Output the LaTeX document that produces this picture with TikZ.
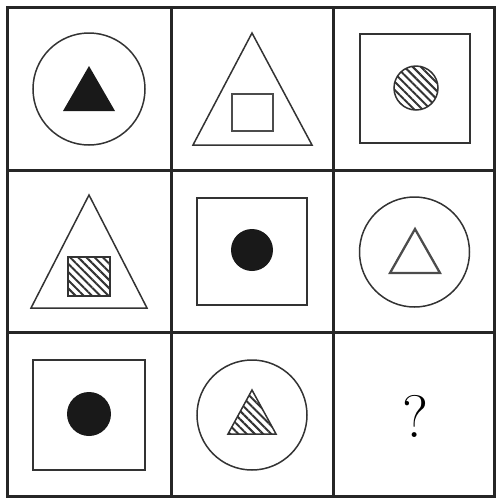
\documentclass[tikz,border=0pt]{standalone}
\usetikzlibrary{patterns.meta}
\begin{document}
\begin{tikzpicture}[x=1pt,y=-1pt,
  gridline/.style={line width=3pt, draw=black!85},
  figline/.style={line width=1.5pt, draw=black!80},
  thickfig/.style={line width=2.3pt, draw=black!70},
  solidfig/.style={fill=black!90, draw=none},
  hatchfig/.style={line width=1.5pt, draw=black!80, pattern={Lines[angle=-45,distance=5.8pt,line width=2pt]}, pattern color=black!80}]
\useasboundingbox (0,0) rectangle (499,499);
% grid
\draw[gridline] (7,7) rectangle (494,496);
\draw[gridline] (171,7) -- (171,496);
\draw[gridline] (333,7) -- (333,496);
\draw[gridline] (7,170) -- (494,170);
\draw[gridline] (7,332) -- (494,332);
% cell 1
\draw[figline] (89,89) circle[radius=56];
\fill[solidfig] (89,66) -- (115,111) -- (63,111) -- cycle;
% cell 2
\draw[figline] (252,33) -- (312,145) -- (193,145) -- cycle;
\draw[thickfig] (232,94) rectangle (273,131);
% cell 3
\draw[figline] (360,34) rectangle (470,143);
\draw[hatchfig] (416,88) circle[radius=22];
% cell 4
\draw[figline] (89,195) -- (147,308) -- (31,308) -- cycle;
\draw[hatchfig] (68,257) rectangle (110,296);
% cell 5
\draw[figline] (197,198) rectangle (307,305);
\fill[solidfig] (252,250) circle[radius=21];
% cell 6
\draw[figline] (414.5,252) circle[radius=55];
\draw[thickfig] (415,229) -- (440,273) -- (390,273) -- cycle;
% cell 7
\draw[figline] (33,360) rectangle (145,470);
\fill[solidfig] (89,414) circle[radius=22];
% cell 8
\draw[figline] (252,415) circle[radius=55];
\draw[hatchfig] (252,390) -- (276,434) -- (228,434) -- cycle;
% cell 9
\node[font=\fontsize{60}{62}\selectfont, inner sep=0pt] (q) at (415,416) {?};
\end{tikzpicture}
\end{document}
